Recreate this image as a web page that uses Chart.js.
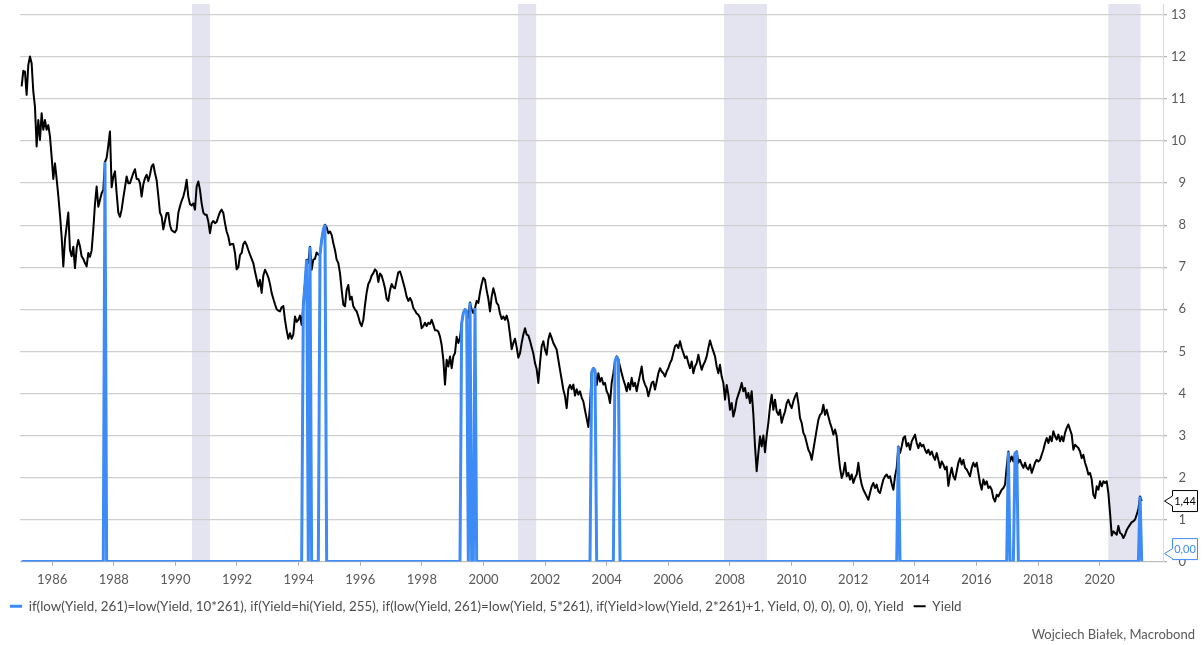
<!DOCTYPE html>
<html><head><meta charset="utf-8">
<script src="https://cdn.jsdelivr.net/npm/chart.js@4.4.1/dist/chart.umd.min.js"></script>
<style>html,body{margin:0;padding:0;background:#fff}#wrap{width:1203px;height:645px;position:relative}</style>
</head><body><div id="wrap"><canvas id="c"></canvas></div>
<script>
// ---- data ----
const startYear = 1985.01;      // first observation (decimal year)
const stepYears = 0.0541;       // sampling interval (~20 days)
const yieldValues = [
11.30,11.67,11.65,11.10,11.81,12.01,11.85,11.18,10.82,9.87,
10.50,10.03,10.66,10.27,10.50,10.27,10.38,10.11,9.63,9.10,
9.47,9.10,8.70,8.25,7.73,7.02,7.65,7.97,8.30,7.41,
7.26,7.49,6.98,7.45,7.65,7.50,7.26,7.20,7.10,7.02,
7.34,7.25,7.40,7.90,8.50,8.92,8.44,8.60,8.76,8.84,
9.50,9.60,9.90,10.23,8.90,9.15,9.28,8.76,8.30,8.20,
8.37,8.65,8.90,9.16,9.00,9.00,9.12,9.24,9.33,9.10,
9.10,9.00,8.68,8.97,9.12,9.20,9.05,9.20,9.40,9.45,
9.24,9.07,8.70,8.30,8.21,7.90,8.10,8.29,8.29,8.00,
7.88,7.85,7.83,7.90,8.29,8.45,8.58,8.68,8.84,9.08,
8.68,8.50,8.47,8.52,8.37,8.92,9.04,8.84,8.52,8.30,
8.25,8.25,8.09,7.81,8.05,8.10,8.05,8.08,8.20,8.31,
8.37,8.29,8.05,7.85,7.73,7.53,7.55,7.55,7.34,6.95,
7.00,7.29,7.34,7.55,7.61,7.53,7.41,7.30,7.20,7.10,
6.90,6.72,6.54,6.70,6.39,6.80,6.94,6.86,6.76,6.60,
6.39,6.25,6.12,6.00,5.97,5.95,6.05,6.08,5.75,5.50,
5.30,
5.43,5.30,5.40,5.83,5.70,5.75,5.85,5.63,6.10,6.60,
7.18,7.10,7.49,6.94,7.18,7.20,7.35,7.30,7.30,7.65,
7.90,8.01,7.95,7.81,7.85,7.77,7.57,7.41,7.18,7.10,
6.86,6.46,6.11,6.07,6.46,6.58,6.23,6.30,6.07,6.00,
5.95,5.83,5.68,5.60,5.75,6.10,6.40,6.60,6.68,6.80,
6.86,6.95,6.90,6.65,6.85,6.80,6.66,6.50,6.25,6.20,
6.45,6.60,6.52,6.50,6.70,6.88,6.90,6.78,6.63,6.48,
6.30,6.20,6.27,6.19,6.03,5.97,5.90,5.87,5.80,5.55,
5.60,5.68,5.60,5.68,5.65,5.75,5.63,5.50,5.50,5.47,
5.35,5.15,4.80,4.21,4.80,4.64,4.88,4.60,4.88,4.96,
5.35,5.20,5.32,5.67,5.91,6.00,5.95,5.80,6.16,6.00,
5.91,6.03,6.20,6.15,6.40,6.60,6.75,6.70,6.45,6.25,
5.95,6.30,6.50,6.35,6.15,6.10,5.90,5.77,5.83,5.75,
5.85,5.70,5.40,5.05,5.20,5.30,5.10,4.85,4.95,5.20,
5.40,5.55,5.40,5.38,5.25,5.10,4.95,4.72,4.58,4.25,
4.72,5.12,5.24,5.04,4.92,5.28,5.43,5.32,5.20,5.12,
5.04,4.80,4.56,4.33,4.09,3.93,3.65,4.10,4.20,4.10,
4.21,3.95,4.10,3.97,4.05,3.90,3.81,3.60,3.40,3.20,
3.70,4.50,4.60,4.55,4.20,4.48,4.28,4.37,4.21,4.25,
4.05,3.97,3.77,4.25,4.48,4.76,4.88,4.80,4.64,4.48,
4.33,4.21,4.05,4.25,4.09,4.37,4.17,4.25,4.05,4.25,
4.44,4.64,4.33,4.21,4.13,3.93,4.09,4.25,4.28,4.09,
4.28,4.48,4.60,4.52,4.48,4.40,4.52,4.60,4.72,4.80,
4.96,5.12,5.16,5.08,5.24,5.08,4.96,4.84,4.88,4.72,
4.60,4.76,4.48,4.64,4.72,4.92,4.72,4.56,4.68,4.76,
4.88,5.08,5.26,5.12,5.00,4.88,4.64,4.48,4.68,4.40,
4.25,3.85,4.20,3.97,3.61,3.77,3.45,3.61,3.85,3.97,
4.09,4.25,4.05,4.13,3.89,4.01,3.77,4.05,3.50,2.74,
2.15,2.58,2.98,2.74,3.00,2.60,3.00,3.30,3.69,3.97,
3.61,3.85,3.57,3.49,3.61,3.30,3.45,3.57,3.77,3.85,
3.73,3.65,3.81,3.93,4.01,3.77,3.41,3.30,3.06,2.98,
2.82,2.66,2.58,2.42,2.66,2.90,3.14,3.37,3.49,3.53,
3.73,3.49,3.61,3.45,3.30,3.18,3.02,3.14,2.98,2.58,
2.23,1.99,2.11,2.35,2.03,2.11,1.95,2.07,1.87,1.99,
2.07,2.35,2.03,1.83,1.71,1.63,1.55,1.47,1.63,1.79,
1.87,1.75,1.83,1.67,
1.63,1.80,1.95,2.03,2.07,1.99,2.03,1.85,1.71,2.03,
2.23,2.74,2.58,2.74,2.94,2.98,2.74,2.82,2.66,2.86,
2.94,3.02,2.82,2.70,2.82,2.74,2.78,2.66,2.58,2.66,
2.54,2.62,2.50,2.42,2.58,2.42,2.23,2.38,2.31,2.19,
2.26,1.80,2.05,2.23,2.03,1.95,2.15,2.35,2.46,2.31,
2.42,2.23,2.19,2.11,2.03,2.23,2.35,2.26,2.35,2.11,
1.87,1.71,1.95,1.83,1.91,1.75,1.79,1.71,1.51,1.43,
1.59,1.55,1.63,1.71,1.75,1.83,2.26,2.62,2.38,2.50,
2.38,2.58,2.62,2.35,2.42,2.31,2.23,2.35,2.23,2.19,
2.31,2.11,2.23,2.35,2.42,2.38,2.42,2.54,2.66,2.82,
2.94,2.82,2.98,2.86,3.10,2.98,2.90,3.02,2.86,2.98,
2.86,3.06,3.18,3.26,3.14,3.02,2.66,2.78,2.74,2.70,
2.62,2.46,2.54,2.35,2.23,2.07,2.11,1.95,1.59,1.51,
1.79,1.71,1.91,1.79,1.91,1.87,1.91,1.63,1.16,0.62,
0.72,0.68,0.64,0.85,0.68,0.65,0.56,0.64,0.75,0.82,
0.88,0.94,0.96,1.00,1.12,1.25,1.55,1.44
];
// observations where the signal formula returned Yield (otherwise 0)
const signalIdx = [50, 169,170,171, 173, 179,180,181,182, 264,265,266,267, 269, 272,
                   342,343,344, 356,357,358, 526, 592, 596,597, 671];
const recessionStart = [1990.54, 2001.12, 2007.81, 2020.28];
const recessionEnd   = [1991.12, 2001.71, 2009.20, 2021.33];
const xTickStep = 2;
const yTickStep = 1;
const xMin = 1984.957, xMax = 2022.056, yMin = 0, yMax = 13.26;
const legendSignal = 'if(low(Yield, 261)=low(Yield, 10*261), if(Yield=hi(Yield, 255), if(low(Yield, 261)=low(Yield, 5*261), if(Yield>low(Yield, 2*261)+1, Yield, 0), 0), 0), 0), Yield';
const legendYield = 'Yield';
const creditText = 'Wojciech Białek, Macrobond';

// ---- build ----
const FONT = "Lato, 'Open Sans', sans-serif";
const BLUE = '#3d8bf6';
const dates = yieldValues.map((_, i) => +(startYear + i * stepYears).toFixed(4));
const lastDate = dates[dates.length - 1];
const signalValues = yieldValues.map((v, i) => signalIdx.includes(i) ? v : 0);

function fitFont(text, target) {
  const c = document.createElement('canvas').getContext('2d');
  c.font = '100px ' + FONT;
  const w = c.measureText(text).width;
  return Math.max(10, Math.min(16, 100 * target / w));
}
const legendFontSize = fitFont(legendSignal, 876);

Chart.defaults.font.family = FONT;

const recessionPlugin = {
  id: 'recessions',
  beforeDraw(chart) {
    const {ctx, chartArea: {top, bottom}, scales: {x}} = chart;
    ctx.save();
    ctx.fillStyle = '#e4e4f1';
    recessionStart.forEach((s, k) => {
      const x0 = x.getPixelForValue(s), x1 = x.getPixelForValue(recessionEnd[k]);
      ctx.fillRect(x0, top, x1 - x0, bottom - top);
    });
    ctx.restore();
  }
};

const lastValuePlugin = {
  id: 'lastValues',
  afterDraw(chart) {
    const {ctx, chartArea, scales: {y}} = chart;
    const h = 21, x0 = chartArea.right + 9.5, x1 = x0 + 25, tip = chartArea.right + 1.5;
    chart.data.datasets.forEach(ds => {
      const v = ds.data[ds.data.length - 1].y;
      const py = y.getPixelForValue(v);
      const cy = Math.min(py, chartArea.bottom - 2 - h / 2);
      const ay = Math.min(py, cy + h / 2 - 6);
      ctx.save();
      ctx.beginPath();
      ctx.moveTo(x0, cy - h / 2);
      ctx.lineTo(x1, cy - h / 2);
      ctx.lineTo(x1, cy + h / 2);
      ctx.lineTo(x0, cy + h / 2);
      ctx.lineTo(x0, ay + 5);
      ctx.lineTo(tip, ay);
      ctx.lineTo(x0, ay - 5);
      ctx.closePath();
      ctx.fillStyle = '#fff';
      ctx.fill();
      ctx.lineWidth = 1;
      ctx.strokeStyle = ds.borderColor;
      ctx.stroke();
      ctx.fillStyle = ds.borderColor;
      ctx.font = '11px ' + FONT;
      ctx.textAlign = 'center';
      ctx.textBaseline = 'middle';
      ctx.fillText(v.toFixed(2).replace('.', ','), (x0 + x1) / 2, cy + 0.5);
      ctx.restore();
    });
  }
};

const creditPlugin = {
  id: 'credit',
  afterDraw(chart) {
    const ctx = chart.ctx;
    ctx.save();
    ctx.font = '13px ' + FONT;
    ctx.fillStyle = '#595959';
    ctx.textAlign = 'right';
    ctx.textBaseline = 'middle';
    ctx.fillText(creditText, chart.width - 8, chart.height - 10);
    ctx.restore();
  }
};

new Chart(document.getElementById('c'), {
  type: 'line',
  data: {
    datasets: [
      {
        label: legendSignal,
        data: dates.map((d, i) => ({x: d, y: signalValues[i]})),
        borderColor: BLUE, backgroundColor: BLUE,
        borderWidth: 3, pointRadius: 0, tension: 0,
        borderJoinStyle: 'bevel', yAxisID: 'y'
      },
      {
        label: legendYield,
        data: dates.map((d, i) => ({x: d, y: yieldValues[i]})),
        borderColor: '#000000', backgroundColor: '#000000',
        borderWidth: 2, pointRadius: 0, tension: 0,
        borderJoinStyle: 'round', yAxisID: 'y'
      }
    ]
  },
  options: {
    responsive: true,
    maintainAspectRatio: false,
    animation: false,
    events: [],
    layout: {padding: {top: 4, left: 0, right: 17, bottom: 22}},
    scales: {
      x: {
        type: 'linear', position: 'bottom', min: xMin, max: xMax,
        ticks: {
          stepSize: xTickStep, includeBounds: false, autoSkip: false, maxRotation: 0,
          padding: 6, color: '#595959', font: {size: 13},
          callback: v => String(v)
        },
        grid: {drawOnChartArea: false, drawTicks: true, tickLength: 4, color: '#a8a8a8'},
        border: {display: true, color: '#bfbfbf'},
        afterBuildTicks(s) { s.ticks = s.ticks.filter(t => t.value <= lastDate); },
        afterFit(s) { s.height = 28; s.paddingLeft = 0; s.paddingRight = 0; }
      },
      y: {
        type: 'linear', position: 'right', min: yMin, max: yMax,
        ticks: {
          stepSize: yTickStep, includeBounds: false, padding: 4, crossAlign: 'far',
          color: '#595959', font: {size: 13}
        },
        grid: {color: '#cfcfcf', lineWidth: 1.3, drawTicks: true, tickLength: 4, tickColor: '#b5b5b5'},
        border: {display: true, color: '#d9d9d9', width: 1},
        afterFit(s) { s.width = 23; s.paddingTop = 0; s.paddingBottom = 0; }
      },
      yPad: {
        type: 'linear', position: 'left', min: 0, max: 1, display: true,
        grid: {display: false, drawTicks: false},
        border: {display: false},
        ticks: {display: false},
        afterFit(s) { s.width = 20; s.paddingTop = 0; s.paddingBottom = 0; }
      }
    },
    plugins: {
      tooltip: {enabled: false},
      title: {display: false},
      legend: {
        position: 'bottom', align: 'start',
        labels: {
          usePointStyle: true, pointStyle: 'line', pointStyleWidth: 12,
          padding: 10, color: '#4d4d4d', font: {size: legendFontSize}
        }
      }
    }
  },
  plugins: [recessionPlugin, lastValuePlugin, creditPlugin]
});
</script>
</body></html>
